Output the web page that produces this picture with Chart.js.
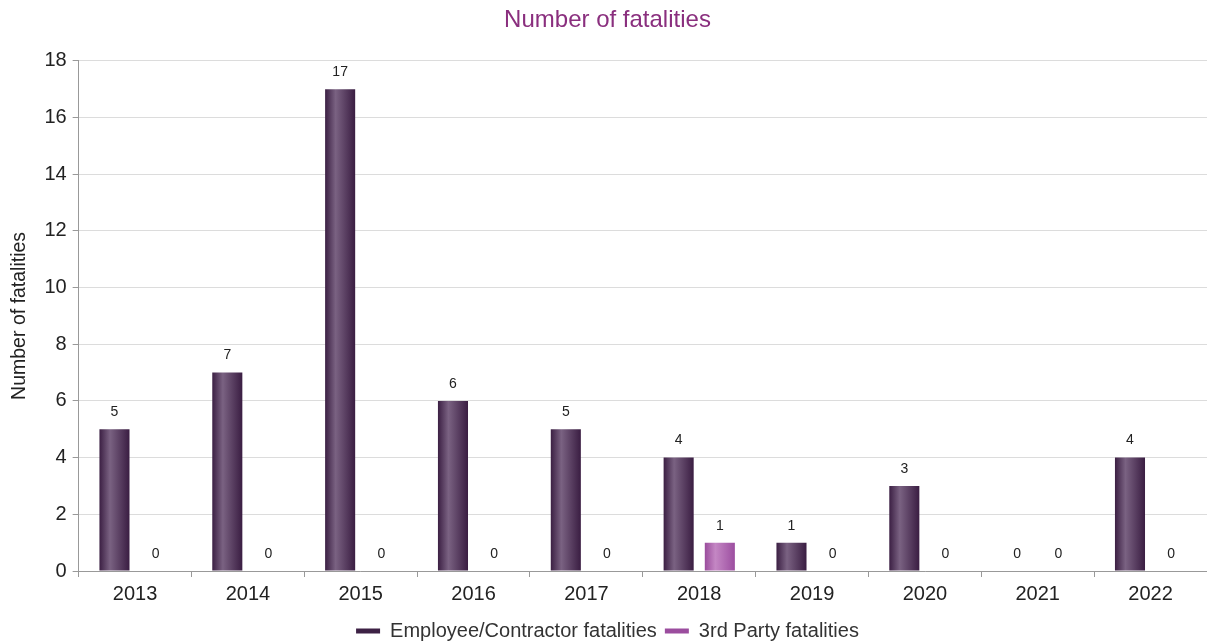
<!DOCTYPE html>
<html>
<head>
<meta charset="utf-8">
<script src="https://cdn.jsdelivr.net/npm/chart.js@4.4.0/dist/chart.umd.min.js"></script>
<style>
  html, body { margin: 0; padding: 0; background: #fff; }
  #wrap { width: 1207px; height: 643px; position: relative; }
</style>
</head>
<body>
<div id="wrap"><canvas id="fatalChart"></canvas></div>
<script>
// chart data
var years = ['2013', '2014', '2015', '2016', '2017', '2018', '2019', '2020', '2021', '2022'];
var employeeFatalities = [5, 7, 17, 6, 5, 4, 1, 3, 0, 4];
var thirdPartyFatalities = [0, 0, 0, 0, 0, 1, 0, 0, 0, 0];
var yTicks = [0, 2, 4, 6, 8, 10, 12, 14, 16, 18];

var FONT = '"Liberation Sans", Arial, sans-serif';

// colour stops for the shaded bars: edge, highlight, edge
var shades = [
    ['#3b1f43', '#7a6282', '#3a1d42'],
    ['#9a4c9c', '#c487c4', '#9c4ea0']
];

// give every bar a left-to-right gradient once its position is known
var barShading = {
    id: 'barShading',
    beforeDatasetsDraw: function (chart) {
        var ctx = chart.ctx;
        chart.data.datasets.forEach(function (ds, di) {
            var meta = chart.getDatasetMeta(di);
            meta.data.forEach(function (bar) {
                var half = bar.width / 2;
                var g = ctx.createLinearGradient(bar.x - half, 0, bar.x + half, 0);
                g.addColorStop(0, shades[di][0]);
                g.addColorStop(0.35, shades[di][1]);
                g.addColorStop(1, shades[di][2]);
                bar.options = Object.assign({}, bar.options, { backgroundColor: g });
            });
        });
    }
};

// value labels above each bar
var valueLabels = {
    id: 'valueLabels',
    afterDatasetsDraw: function (chart) {
        var ctx = chart.ctx;
        ctx.save();
        ctx.font = '14px ' + FONT;
        ctx.fillStyle = '#222';
        ctx.textAlign = 'center';
        ctx.textBaseline = 'bottom';
        chart.data.datasets.forEach(function (ds, di) {
            var meta = chart.getDatasetMeta(di);
            meta.data.forEach(function (bar, i) {
                ctx.fillText(String(ds.data[i]), bar.x, bar.y - 10);
            });
        });
        ctx.restore();
    }
};

var ctx = document.getElementById('fatalChart');
new Chart(ctx, {
    type: 'bar',
    data: {
        labels: years,
        datasets: [{
            label: 'Employee/Contractor fatalities',
            data: employeeFatalities,
            backgroundColor: '#3d2145',
            borderWidth: 0
        }, {
            label: '3rd Party fatalities',
            data: thirdPartyFatalities,
            backgroundColor: '#9b4d9e',
            borderWidth: 0
        }]
    },
    options: {
        responsive: true,
        maintainAspectRatio: false,
        animation: false,
        categoryPercentage: 0.73,
        barPercentage: 0.73,
        layout: { padding: { left: 8, right: 0, top: 0, bottom: -8 } },
        plugins: {
            title: {
                display: true,
                text: 'Number of fatalities',
                color: '#8a2f7e',
                font: { family: FONT, size: 24, weight: 'normal' },
                padding: { top: 6, bottom: 26 }
            },
            legend: {
                position: 'bottom',
                labels: {
                    color: '#333',
                    font: { family: FONT, size: 20 },
                    boxWidth: 24,
                    boxHeight: 5,
                    padding: 8
                }
            },
            tooltip: { enabled: false }
        },
        scales: {
            x: {
                grid: {
                    offset: true,
                    drawOnChartArea: false,
                    tickLength: 6,
                    tickColor: '#999',
                    color: '#999'
                },
                border: { color: '#999' },
                ticks: {
                    color: '#222',
                    font: { family: FONT, size: 20 },
                    padding: 5
                },
                afterFit: function (axis) {
                    axis.height = 42;
                }
            },
            y: {
                min: 0,
                max: 18,
                afterBuildTicks: function (axis) {
                    axis.ticks = yTicks.map(function (v) { return { value: v }; });
                },
                grid: {
                    color: '#dcdcdc',
                    tickColor: '#999',
                    tickLength: 6
                },
                border: { color: '#999' },
                ticks: {
                    color: '#222',
                    font: { family: FONT, size: 20 },
                    padding: 6
                },
                title: {
                    display: true,
                    text: 'Number of fatalities',
                    color: '#222',
                    font: { family: FONT, size: 19.5 },
                    padding: { top: 0, bottom: 7 }
                }
            }
        }
    },
    plugins: [barShading, valueLabels]
});
</script>
</body>
</html>
